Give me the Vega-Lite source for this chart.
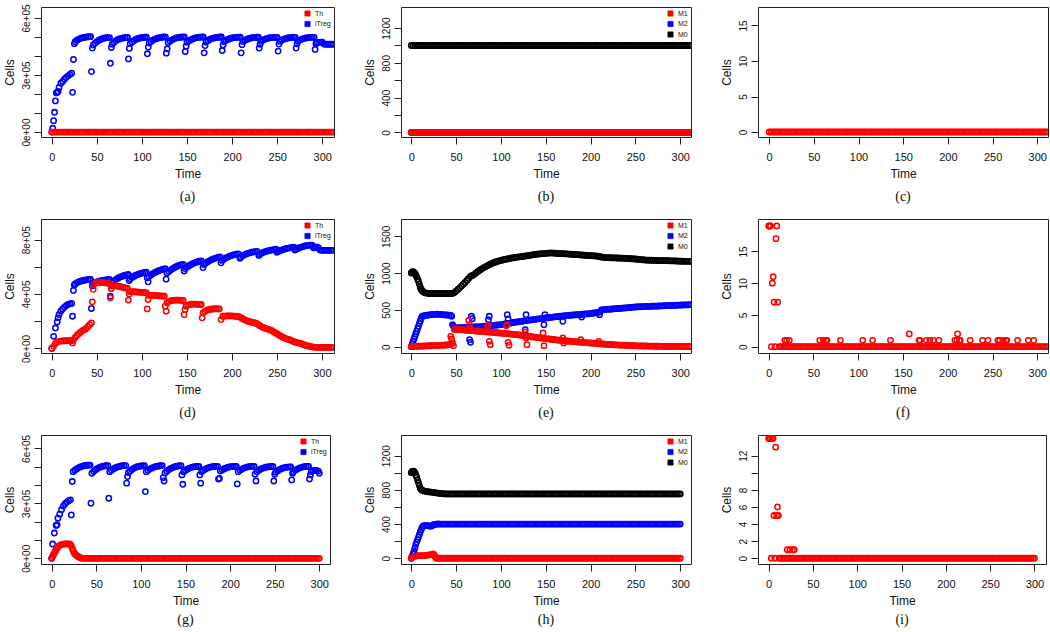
{
"$schema":"https://vega.github.io/schema/vega-lite/v6.json",
"background":"white",
"padding":{"left":2,"top":3,"right":0,"bottom":0},
"config":{
 "view":{"stroke":"#222222","strokeWidth":1},
 "font":"Liberation Sans",
 "point":{"filled":false,"size":28,"strokeWidth":1.55,"opacity":1},
 "axis":{"domain":false,"grid":false,"tickSize":7,"tickColor":"#222222","tickWidth":1,"labelFont":"Liberation Sans","labelColor":"#111111","labelOverlap":false,"labelFlush":false,"titleFont":"Liberation Sans","titleFontSize":12,"titleFontWeight":"normal","titleColor":"#111111"},
 "axisX":{"labelFontSize":11,"labelPadding":7,"titlePadding":6},
 "axisY":{"labelFontSize":10,"labelAngle":270,"labelAlign":"center","labelBaseline":"alphabetic","labelPadding":5,"titlePadding":5},
 "legend":{"orient":"top-right","offset":3,"padding":0,"symbolType":"square","symbolSize":28,"labelFontSize":7,"labelFont":"Liberation Sans","labelColor":"#111111","rowPadding":1.5,"labelOffset":4},
 "title":{"font":"Liberation Serif","fontSize":14,"fontWeight":"normal","color":"#111111","orient":"bottom","frame":"group","anchor":"middle"}
},
"datasets":{
"z312":[{"t":0,"v":0},{"t":2,"v":0},{"t":4,"v":0},{"t":6,"v":0},{"t":8,"v":0},{"t":10,"v":0},{"t":12,"v":0},{"t":14,"v":0},{"t":16,"v":0},{"t":18,"v":0},{"t":20,"v":0},{"t":22,"v":0},{"t":24,"v":0},{"t":26,"v":0},{"t":28,"v":0},{"t":30,"v":0},{"t":32,"v":0},{"t":34,"v":0},{"t":36,"v":0},{"t":38,"v":0},{"t":40,"v":0},{"t":42,"v":0},{"t":44,"v":0},{"t":46,"v":0},{"t":48,"v":0},{"t":50,"v":0},{"t":52,"v":0},{"t":54,"v":0},{"t":56,"v":0},{"t":58,"v":0},{"t":60,"v":0},{"t":62,"v":0},{"t":64,"v":0},{"t":66,"v":0},{"t":68,"v":0},{"t":70,"v":0},{"t":72,"v":0},{"t":74,"v":0},{"t":76,"v":0},{"t":78,"v":0},{"t":80,"v":0},{"t":82,"v":0},{"t":84,"v":0},{"t":86,"v":0},{"t":88,"v":0},{"t":90,"v":0},{"t":92,"v":0},{"t":94,"v":0},{"t":96,"v":0},{"t":98,"v":0},{"t":100,"v":0},{"t":102,"v":0},{"t":104,"v":0},{"t":106,"v":0},{"t":108,"v":0},{"t":110,"v":0},{"t":112,"v":0},{"t":114,"v":0},{"t":116,"v":0},{"t":118,"v":0},{"t":120,"v":0},{"t":122,"v":0},{"t":124,"v":0},{"t":126,"v":0},{"t":128,"v":0},{"t":130,"v":0},{"t":132,"v":0},{"t":134,"v":0},{"t":136,"v":0},{"t":138,"v":0},{"t":140,"v":0},{"t":142,"v":0},{"t":144,"v":0},{"t":146,"v":0},{"t":148,"v":0},{"t":150,"v":0},{"t":152,"v":0},{"t":154,"v":0},{"t":156,"v":0},{"t":158,"v":0},{"t":160,"v":0},{"t":162,"v":0},{"t":164,"v":0},{"t":166,"v":0},{"t":168,"v":0},{"t":170,"v":0},{"t":172,"v":0},{"t":174,"v":0},{"t":176,"v":0},{"t":178,"v":0},{"t":180,"v":0},{"t":182,"v":0},{"t":184,"v":0},{"t":186,"v":0},{"t":188,"v":0},{"t":190,"v":0},{"t":192,"v":0},{"t":194,"v":0},{"t":196,"v":0},{"t":198,"v":0},{"t":200,"v":0},{"t":202,"v":0},{"t":204,"v":0},{"t":206,"v":0},{"t":208,"v":0},{"t":210,"v":0},{"t":212,"v":0},{"t":214,"v":0},{"t":216,"v":0},{"t":218,"v":0},{"t":220,"v":0},{"t":222,"v":0},{"t":224,"v":0},{"t":226,"v":0},{"t":228,"v":0},{"t":230,"v":0},{"t":232,"v":0},{"t":234,"v":0},{"t":236,"v":0},{"t":238,"v":0},{"t":240,"v":0},{"t":242,"v":0},{"t":244,"v":0},{"t":246,"v":0},{"t":248,"v":0},{"t":250,"v":0},{"t":252,"v":0},{"t":254,"v":0},{"t":256,"v":0},{"t":258,"v":0},{"t":260,"v":0},{"t":262,"v":0},{"t":264,"v":0},{"t":266,"v":0},{"t":268,"v":0},{"t":270,"v":0},{"t":272,"v":0},{"t":274,"v":0},{"t":276,"v":0},{"t":278,"v":0},{"t":280,"v":0},{"t":282,"v":0},{"t":284,"v":0},{"t":286,"v":0},{"t":288,"v":0},{"t":290,"v":0},{"t":292,"v":0},{"t":294,"v":0},{"t":296,"v":0},{"t":298,"v":0},{"t":300,"v":0},{"t":302,"v":0},{"t":304,"v":0},{"t":306,"v":0},{"t":308,"v":0},{"t":310,"v":0},{"t":312,"v":0}],
"k1000":[{"t":0,"v":1000},{"t":2,"v":1000},{"t":4,"v":1000},{"t":6,"v":1000},{"t":8,"v":1000},{"t":10,"v":1000},{"t":12,"v":1000},{"t":14,"v":1000},{"t":16,"v":1000},{"t":18,"v":1000},{"t":20,"v":1000},{"t":22,"v":1000},{"t":24,"v":1000},{"t":26,"v":1000},{"t":28,"v":1000},{"t":30,"v":1000},{"t":32,"v":1000},{"t":34,"v":1000},{"t":36,"v":1000},{"t":38,"v":1000},{"t":40,"v":1000},{"t":42,"v":1000},{"t":44,"v":1000},{"t":46,"v":1000},{"t":48,"v":1000},{"t":50,"v":1000},{"t":52,"v":1000},{"t":54,"v":1000},{"t":56,"v":1000},{"t":58,"v":1000},{"t":60,"v":1000},{"t":62,"v":1000},{"t":64,"v":1000},{"t":66,"v":1000},{"t":68,"v":1000},{"t":70,"v":1000},{"t":72,"v":1000},{"t":74,"v":1000},{"t":76,"v":1000},{"t":78,"v":1000},{"t":80,"v":1000},{"t":82,"v":1000},{"t":84,"v":1000},{"t":86,"v":1000},{"t":88,"v":1000},{"t":90,"v":1000},{"t":92,"v":1000},{"t":94,"v":1000},{"t":96,"v":1000},{"t":98,"v":1000},{"t":100,"v":1000},{"t":102,"v":1000},{"t":104,"v":1000},{"t":106,"v":1000},{"t":108,"v":1000},{"t":110,"v":1000},{"t":112,"v":1000},{"t":114,"v":1000},{"t":116,"v":1000},{"t":118,"v":1000},{"t":120,"v":1000},{"t":122,"v":1000},{"t":124,"v":1000},{"t":126,"v":1000},{"t":128,"v":1000},{"t":130,"v":1000},{"t":132,"v":1000},{"t":134,"v":1000},{"t":136,"v":1000},{"t":138,"v":1000},{"t":140,"v":1000},{"t":142,"v":1000},{"t":144,"v":1000},{"t":146,"v":1000},{"t":148,"v":1000},{"t":150,"v":1000},{"t":152,"v":1000},{"t":154,"v":1000},{"t":156,"v":1000},{"t":158,"v":1000},{"t":160,"v":1000},{"t":162,"v":1000},{"t":164,"v":1000},{"t":166,"v":1000},{"t":168,"v":1000},{"t":170,"v":1000},{"t":172,"v":1000},{"t":174,"v":1000},{"t":176,"v":1000},{"t":178,"v":1000},{"t":180,"v":1000},{"t":182,"v":1000},{"t":184,"v":1000},{"t":186,"v":1000},{"t":188,"v":1000},{"t":190,"v":1000},{"t":192,"v":1000},{"t":194,"v":1000},{"t":196,"v":1000},{"t":198,"v":1000},{"t":200,"v":1000},{"t":202,"v":1000},{"t":204,"v":1000},{"t":206,"v":1000},{"t":208,"v":1000},{"t":210,"v":1000},{"t":212,"v":1000},{"t":214,"v":1000},{"t":216,"v":1000},{"t":218,"v":1000},{"t":220,"v":1000},{"t":222,"v":1000},{"t":224,"v":1000},{"t":226,"v":1000},{"t":228,"v":1000},{"t":230,"v":1000},{"t":232,"v":1000},{"t":234,"v":1000},{"t":236,"v":1000},{"t":238,"v":1000},{"t":240,"v":1000},{"t":242,"v":1000},{"t":244,"v":1000},{"t":246,"v":1000},{"t":248,"v":1000},{"t":250,"v":1000},{"t":252,"v":1000},{"t":254,"v":1000},{"t":256,"v":1000},{"t":258,"v":1000},{"t":260,"v":1000},{"t":262,"v":1000},{"t":264,"v":1000},{"t":266,"v":1000},{"t":268,"v":1000},{"t":270,"v":1000},{"t":272,"v":1000},{"t":274,"v":1000},{"t":276,"v":1000},{"t":278,"v":1000},{"t":280,"v":1000},{"t":282,"v":1000},{"t":284,"v":1000},{"t":286,"v":1000},{"t":288,"v":1000},{"t":290,"v":1000},{"t":292,"v":1000},{"t":294,"v":1000},{"t":296,"v":1000},{"t":298,"v":1000},{"t":300,"v":1000},{"t":302,"v":1000},{"t":304,"v":1000},{"t":306,"v":1000},{"t":308,"v":1000},{"t":310,"v":1000},{"t":312,"v":1000}],
"a_it":[{"t":0,"v":0},{"t":1,"v":20000},{"t":2,"v":60000},{"t":3,"v":104000},{"t":4,"v":164000},{"t":5,"v":206000},{"t":6,"v":210000},{"t":7,"v":214000},{"t":8,"v":235000},{"t":10,"v":257000},{"t":12,"v":266000},{"t":14,"v":278000},{"t":16,"v":288000},{"t":18,"v":296000},{"t":20,"v":303000},{"t":22,"v":310000},{"t":23,"v":209000},{"t":24,"v":382000},{"t":25,"v":465000},{"t":26,"v":475000},{"t":28,"v":483000},{"t":30,"v":489000},{"t":32,"v":493000},{"t":34,"v":496000},{"t":36,"v":498000},{"t":38,"v":500000},{"t":40,"v":501000},{"t":42,"v":502000},{"t":43,"v":502000},{"t":44,"v":318000},{"t":45,"v":442000},{"t":46,"v":458000},{"t":48,"v":468000},{"t":50,"v":476000},{"t":52,"v":482000},{"t":54,"v":487000},{"t":56,"v":491000},{"t":58,"v":494000},{"t":60,"v":496000},{"t":62,"v":497000},{"t":64,"v":497000},{"t":65,"v":362000},{"t":66,"v":445000},{"t":67,"v":462000},{"t":69,"v":472000},{"t":71,"v":480000},{"t":73,"v":486000},{"t":75,"v":490000},{"t":77,"v":493000},{"t":79,"v":495000},{"t":81,"v":497000},{"t":83,"v":498000},{"t":84,"v":498000},{"t":85,"v":385000},{"t":86,"v":440000},{"t":87,"v":465000},{"t":89,"v":474000},{"t":91,"v":481000},{"t":93,"v":487000},{"t":95,"v":491000},{"t":97,"v":494000},{"t":99,"v":496000},{"t":101,"v":498000},{"t":103,"v":499000},{"t":105,"v":499000},{"t":106,"v":412000},{"t":107,"v":447000},{"t":108,"v":468000},{"t":110,"v":476000},{"t":112,"v":483000},{"t":114,"v":488000},{"t":116,"v":492000},{"t":118,"v":495000},{"t":120,"v":497000},{"t":122,"v":499000},{"t":124,"v":500000},{"t":126,"v":500000},{"t":127,"v":415000},{"t":128,"v":438000},{"t":129,"v":470000},{"t":131,"v":478000},{"t":133,"v":484000},{"t":135,"v":489000},{"t":137,"v":493000},{"t":139,"v":496000},{"t":141,"v":498000},{"t":143,"v":499000},{"t":145,"v":500000},{"t":147,"v":500000},{"t":148,"v":424000},{"t":149,"v":452000},{"t":150,"v":472000},{"t":152,"v":479000},{"t":154,"v":485000},{"t":156,"v":490000},{"t":158,"v":493000},{"t":160,"v":496000},{"t":162,"v":498000},{"t":164,"v":499000},{"t":166,"v":500000},{"t":168,"v":500000},{"t":169,"v":417000},{"t":170,"v":455000},{"t":171,"v":474000},{"t":173,"v":481000},{"t":175,"v":487000},{"t":177,"v":491000},{"t":179,"v":494000},{"t":181,"v":496000},{"t":183,"v":498000},{"t":185,"v":499000},{"t":187,"v":500000},{"t":188,"v":500000},{"t":189,"v":429000},{"t":190,"v":458000},{"t":191,"v":475000},{"t":193,"v":482000},{"t":195,"v":487000},{"t":197,"v":491000},{"t":199,"v":494000},{"t":201,"v":496000},{"t":203,"v":497000},{"t":205,"v":498000},{"t":207,"v":499000},{"t":209,"v":499000},{"t":210,"v":417000},{"t":211,"v":460000},{"t":212,"v":476000},{"t":214,"v":482000},{"t":216,"v":487000},{"t":218,"v":491000},{"t":220,"v":494000},{"t":222,"v":496000},{"t":224,"v":497000},{"t":226,"v":498000},{"t":228,"v":499000},{"t":229,"v":499000},{"t":230,"v":442000},{"t":231,"v":462000},{"t":232,"v":477000},{"t":234,"v":483000},{"t":236,"v":488000},{"t":238,"v":491000},{"t":240,"v":494000},{"t":242,"v":496000},{"t":244,"v":497000},{"t":246,"v":498000},{"t":248,"v":498000},{"t":250,"v":498000},{"t":251,"v":426000},{"t":252,"v":463000},{"t":253,"v":477000},{"t":255,"v":483000},{"t":257,"v":488000},{"t":259,"v":491000},{"t":261,"v":494000},{"t":263,"v":496000},{"t":265,"v":497000},{"t":267,"v":498000},{"t":269,"v":498000},{"t":270,"v":498000},{"t":271,"v":442000},{"t":272,"v":464000},{"t":273,"v":478000},{"t":275,"v":484000},{"t":277,"v":488000},{"t":279,"v":492000},{"t":281,"v":494000},{"t":283,"v":496000},{"t":285,"v":497000},{"t":287,"v":498000},{"t":289,"v":498000},{"t":291,"v":498000},{"t":292,"v":435000},{"t":293,"v":465000},{"t":294,"v":470000},{"t":296,"v":472000},{"t":298,"v":473000},{"t":300,"v":473000},{"t":302,"v":463000},{"t":304,"v":462000},{"t":306,"v":462000},{"t":308,"v":462000},{"t":310,"v":462000},{"t":312,"v":462000}],
"d_th":[{"t":0,"v":0},{"t":2,"v":15000},{"t":4,"v":37000},{"t":6,"v":47000},{"t":8,"v":52000},{"t":10,"v":54000},{"t":12,"v":55000},{"t":14,"v":56000},{"t":16,"v":57000},{"t":18,"v":57000},{"t":20,"v":57000},{"t":22,"v":57000},{"t":23,"v":40000},{"t":24,"v":62000},{"t":26,"v":80000},{"t":28,"v":95000},{"t":30,"v":108000},{"t":32,"v":120000},{"t":34,"v":130000},{"t":36,"v":138000},{"t":38,"v":145000},{"t":40,"v":160000},{"t":42,"v":175000},{"t":44,"v":188000},{"t":45,"v":343000},{"t":46,"v":435000},{"t":47,"v":470000},{"t":49,"v":484000},{"t":51,"v":487000},{"t":53,"v":487000},{"t":55,"v":486000},{"t":57,"v":485000},{"t":59,"v":483000},{"t":61,"v":481000},{"t":63,"v":479000},{"t":64,"v":477000},{"t":65,"v":373000},{"t":66,"v":440000},{"t":67,"v":462000},{"t":69,"v":462000},{"t":71,"v":460000},{"t":73,"v":458000},{"t":75,"v":456000},{"t":77,"v":453000},{"t":79,"v":450000},{"t":81,"v":447000},{"t":83,"v":444000},{"t":84,"v":442000},{"t":85,"v":356000},{"t":86,"v":400000},{"t":87,"v":418000},{"t":89,"v":418000},{"t":91,"v":417000},{"t":93,"v":416000},{"t":95,"v":415000},{"t":97,"v":414000},{"t":99,"v":413000},{"t":101,"v":412000},{"t":103,"v":411000},{"t":105,"v":410000},{"t":106,"v":291000},{"t":107,"v":360000},{"t":108,"v":390000},{"t":110,"v":391000},{"t":112,"v":390000},{"t":114,"v":390000},{"t":116,"v":389000},{"t":118,"v":388000},{"t":120,"v":387000},{"t":122,"v":386000},{"t":124,"v":385000},{"t":125,"v":385000},{"t":126,"v":311000},{"t":127,"v":274000},{"t":128,"v":336000},{"t":130,"v":345000},{"t":132,"v":350000},{"t":134,"v":353000},{"t":136,"v":355000},{"t":138,"v":356000},{"t":140,"v":356000},{"t":142,"v":355000},{"t":144,"v":354000},{"t":146,"v":353000},{"t":147,"v":249000},{"t":148,"v":285000},{"t":149,"v":311000},{"t":151,"v":318000},{"t":153,"v":322000},{"t":155,"v":325000},{"t":157,"v":326000},{"t":159,"v":326000},{"t":161,"v":325000},{"t":163,"v":324000},{"t":165,"v":323000},{"t":166,"v":323000},{"t":167,"v":225000},{"t":168,"v":262000},{"t":170,"v":272000},{"t":172,"v":280000},{"t":174,"v":285000},{"t":176,"v":288000},{"t":178,"v":290000},{"t":180,"v":291000},{"t":182,"v":292000},{"t":184,"v":292000},{"t":186,"v":291000},{"t":188,"v":212000},{"t":190,"v":237000},{"t":192,"v":238000},{"t":194,"v":239000},{"t":196,"v":240000},{"t":198,"v":240000},{"t":200,"v":239000},{"t":202,"v":238000},{"t":204,"v":237000},{"t":206,"v":236000},{"t":208,"v":234000},{"t":210,"v":226000},{"t":212,"v":218000},{"t":214,"v":212000},{"t":216,"v":206000},{"t":218,"v":200000},{"t":220,"v":196000},{"t":222,"v":193000},{"t":224,"v":189000},{"t":226,"v":187000},{"t":228,"v":182000},{"t":230,"v":172000},{"t":232,"v":163000},{"t":234,"v":157000},{"t":236,"v":151000},{"t":238,"v":146000},{"t":240,"v":142000},{"t":242,"v":138000},{"t":244,"v":132000},{"t":246,"v":124000},{"t":248,"v":116000},{"t":250,"v":108000},{"t":252,"v":100000},{"t":254,"v":92000},{"t":256,"v":84000},{"t":258,"v":78000},{"t":260,"v":72000},{"t":262,"v":68000},{"t":264,"v":64000},{"t":266,"v":58000},{"t":268,"v":52000},{"t":270,"v":47000},{"t":272,"v":43000},{"t":274,"v":40000},{"t":276,"v":37000},{"t":278,"v":32000},{"t":280,"v":27000},{"t":282,"v":23000},{"t":284,"v":19000},{"t":286,"v":16000},{"t":288,"v":13000},{"t":290,"v":10000},{"t":292,"v":8000},{"t":294,"v":7000},{"t":296,"v":7000},{"t":298,"v":7000},{"t":300,"v":7000},{"t":302,"v":7000},{"t":304,"v":7000},{"t":306,"v":7000},{"t":308,"v":7000},{"t":310,"v":7000},{"t":312,"v":7000}],
"d_it":[{"t":0,"v":0},{"t":2,"v":89000},{"t":4,"v":150000},{"t":6,"v":195000},{"t":7,"v":225000},{"t":8,"v":249000},{"t":10,"v":274000},{"t":12,"v":290000},{"t":14,"v":304000},{"t":16,"v":315000},{"t":18,"v":323000},{"t":20,"v":328000},{"t":22,"v":331000},{"t":23,"v":237000},{"t":24,"v":427000},{"t":25,"v":467000},{"t":26,"v":475000},{"t":28,"v":484000},{"t":30,"v":490000},{"t":32,"v":495000},{"t":34,"v":499000},{"t":36,"v":502000},{"t":38,"v":505000},{"t":40,"v":507000},{"t":42,"v":508000},{"t":43,"v":508000},{"t":44,"v":294000},{"t":45,"v":460000},{"t":46,"v":478000},{"t":48,"v":484000},{"t":50,"v":489000},{"t":52,"v":493000},{"t":54,"v":497000},{"t":56,"v":500000},{"t":58,"v":503000},{"t":60,"v":505000},{"t":62,"v":507000},{"t":64,"v":508000},{"t":65,"v":385000},{"t":66,"v":460000},{"t":67,"v":485000},{"t":69,"v":497000},{"t":71,"v":507000},{"t":73,"v":515000},{"t":75,"v":522000},{"t":77,"v":528000},{"t":79,"v":533000},{"t":81,"v":537000},{"t":83,"v":541000},{"t":85,"v":544000},{"t":86,"v":500000},{"t":87,"v":512000},{"t":89,"v":522000},{"t":91,"v":530000},{"t":93,"v":537000},{"t":95,"v":543000},{"t":97,"v":548000},{"t":99,"v":552000},{"t":101,"v":556000},{"t":103,"v":559000},{"t":105,"v":561000},{"t":106,"v":520000},{"t":107,"v":490000},{"t":108,"v":530000},{"t":110,"v":540000},{"t":112,"v":549000},{"t":114,"v":557000},{"t":116,"v":564000},{"t":118,"v":570000},{"t":120,"v":575000},{"t":122,"v":580000},{"t":124,"v":584000},{"t":126,"v":587000},{"t":127,"v":510000},{"t":128,"v":555000},{"t":130,"v":567000},{"t":132,"v":577000},{"t":134,"v":586000},{"t":136,"v":594000},{"t":138,"v":601000},{"t":140,"v":607000},{"t":142,"v":612000},{"t":144,"v":616000},{"t":146,"v":619000},{"t":147,"v":570000},{"t":148,"v":588000},{"t":150,"v":598000},{"t":152,"v":607000},{"t":154,"v":615000},{"t":156,"v":622000},{"t":158,"v":628000},{"t":160,"v":633000},{"t":162,"v":638000},{"t":164,"v":642000},{"t":166,"v":645000},{"t":168,"v":595000},{"t":169,"v":618000},{"t":171,"v":628000},{"t":173,"v":637000},{"t":175,"v":645000},{"t":177,"v":652000},{"t":179,"v":658000},{"t":181,"v":663000},{"t":183,"v":667000},{"t":185,"v":671000},{"t":187,"v":674000},{"t":188,"v":630000},{"t":189,"v":648000},{"t":191,"v":657000},{"t":193,"v":665000},{"t":195,"v":672000},{"t":197,"v":678000},{"t":199,"v":683000},{"t":201,"v":687000},{"t":203,"v":691000},{"t":205,"v":694000},{"t":207,"v":696000},{"t":209,"v":664000},{"t":210,"v":674000},{"t":212,"v":682000},{"t":214,"v":689000},{"t":216,"v":695000},{"t":218,"v":700000},{"t":220,"v":704000},{"t":222,"v":708000},{"t":224,"v":711000},{"t":226,"v":713000},{"t":228,"v":715000},{"t":230,"v":685000},{"t":231,"v":694000},{"t":233,"v":701000},{"t":235,"v":707000},{"t":237,"v":712000},{"t":239,"v":716000},{"t":241,"v":720000},{"t":243,"v":723000},{"t":245,"v":726000},{"t":247,"v":728000},{"t":249,"v":730000},{"t":250,"v":708000},{"t":251,"v":712000},{"t":253,"v":718000},{"t":255,"v":723000},{"t":257,"v":728000},{"t":259,"v":732000},{"t":261,"v":736000},{"t":263,"v":739000},{"t":265,"v":742000},{"t":267,"v":744000},{"t":269,"v":746000},{"t":270,"v":725000},{"t":271,"v":728000},{"t":273,"v":735000},{"t":275,"v":741000},{"t":277,"v":746000},{"t":279,"v":750000},{"t":281,"v":754000},{"t":283,"v":757000},{"t":285,"v":759000},{"t":287,"v":760000},{"t":289,"v":760000},{"t":291,"v":740000},{"t":292,"v":745000},{"t":294,"v":748000},{"t":296,"v":742000},{"t":298,"v":725000},{"t":300,"v":722000},{"t":302,"v":722000},{"t":304,"v":722000},{"t":306,"v":722000},{"t":308,"v":722000},{"t":310,"v":722000},{"t":312,"v":722000}],
"e_m0":[{"t":0,"v":1001},{"t":1,"v":1015},{"t":2,"v":1020},{"t":3,"v":1010},{"t":4,"v":995},{"t":5,"v":975},{"t":6,"v":950},{"t":7,"v":920},{"t":8,"v":890},{"t":9,"v":850},{"t":10,"v":805},{"t":11,"v":780},{"t":12,"v":760},{"t":14,"v":740},{"t":16,"v":730},{"t":18,"v":725},{"t":20,"v":722},{"t":22,"v":722},{"t":24,"v":722},{"t":26,"v":722},{"t":28,"v":722},{"t":30,"v":722},{"t":32,"v":722},{"t":34,"v":722},{"t":36,"v":722},{"t":38,"v":722},{"t":40,"v":722},{"t":42,"v":722},{"t":44,"v":722},{"t":46,"v":724},{"t":48,"v":735},{"t":50,"v":755},{"t":52,"v":778},{"t":54,"v":800},{"t":56,"v":823},{"t":58,"v":848},{"t":60,"v":873},{"t":62,"v":900},{"t":64,"v":928},{"t":66,"v":955},{"t":68,"v":968},{"t":70,"v":980},{"t":72,"v":1000},{"t":74,"v":1018},{"t":76,"v":1035},{"t":78,"v":1052},{"t":80,"v":1068},{"t":82,"v":1082},{"t":84,"v":1095},{"t":86,"v":1108},{"t":88,"v":1120},{"t":90,"v":1132},{"t":92,"v":1142},{"t":94,"v":1151},{"t":96,"v":1159},{"t":98,"v":1166},{"t":100,"v":1172},{"t":102,"v":1178},{"t":104,"v":1184},{"t":106,"v":1189},{"t":108,"v":1195},{"t":110,"v":1200},{"t":112,"v":1205},{"t":114,"v":1209},{"t":116,"v":1213},{"t":118,"v":1217},{"t":120,"v":1220},{"t":122,"v":1223},{"t":124,"v":1226},{"t":126,"v":1229},{"t":128,"v":1233},{"t":130,"v":1237},{"t":132,"v":1241},{"t":134,"v":1245},{"t":136,"v":1250},{"t":138,"v":1254},{"t":140,"v":1257},{"t":142,"v":1260},{"t":144,"v":1262},{"t":146,"v":1264},{"t":148,"v":1265},{"t":150,"v":1268},{"t":152,"v":1270},{"t":154,"v":1272},{"t":156,"v":1273},{"t":158,"v":1272},{"t":160,"v":1270},{"t":162,"v":1268},{"t":164,"v":1266},{"t":166,"v":1265},{"t":168,"v":1265},{"t":170,"v":1264},{"t":172,"v":1262},{"t":174,"v":1260},{"t":176,"v":1258},{"t":178,"v":1256},{"t":180,"v":1254},{"t":182,"v":1252},{"t":184,"v":1251},{"t":186,"v":1250},{"t":188,"v":1248},{"t":190,"v":1246},{"t":192,"v":1244},{"t":194,"v":1242},{"t":196,"v":1240},{"t":198,"v":1238},{"t":200,"v":1237},{"t":202,"v":1236},{"t":204,"v":1234},{"t":206,"v":1232},{"t":208,"v":1230},{"t":210,"v":1225},{"t":212,"v":1218},{"t":214,"v":1215},{"t":216,"v":1213},{"t":218,"v":1211},{"t":220,"v":1210},{"t":222,"v":1209},{"t":224,"v":1208},{"t":226,"v":1207},{"t":228,"v":1206},{"t":230,"v":1205},{"t":232,"v":1204},{"t":234,"v":1203},{"t":236,"v":1202},{"t":238,"v":1200},{"t":240,"v":1199},{"t":242,"v":1198},{"t":244,"v":1197},{"t":246,"v":1195},{"t":248,"v":1193},{"t":250,"v":1191},{"t":252,"v":1189},{"t":254,"v":1186},{"t":256,"v":1183},{"t":258,"v":1181},{"t":260,"v":1179},{"t":262,"v":1177},{"t":264,"v":1176},{"t":266,"v":1175},{"t":268,"v":1174},{"t":270,"v":1173},{"t":272,"v":1172},{"t":274,"v":1171},{"t":276,"v":1170},{"t":278,"v":1170},{"t":280,"v":1169},{"t":282,"v":1169},{"t":284,"v":1169},{"t":286,"v":1169},{"t":288,"v":1168},{"t":290,"v":1167},{"t":292,"v":1166},{"t":294,"v":1165},{"t":296,"v":1164},{"t":298,"v":1163},{"t":300,"v":1162},{"t":302,"v":1161},{"t":304,"v":1160},{"t":306,"v":1160},{"t":308,"v":1160},{"t":310,"v":1160},{"t":312,"v":1160}],
"e_m2":[{"t":0,"v":0},{"t":1,"v":35},{"t":2,"v":70},{"t":3,"v":105},{"t":4,"v":140},{"t":5,"v":175},{"t":6,"v":210},{"t":7,"v":245},{"t":8,"v":280},{"t":9,"v":315},{"t":10,"v":350},{"t":11,"v":385},{"t":12,"v":410},{"t":14,"v":420},{"t":16,"v":425},{"t":18,"v":428},{"t":20,"v":432},{"t":22,"v":435},{"t":24,"v":437},{"t":26,"v":439},{"t":28,"v":440},{"t":30,"v":440},{"t":32,"v":438},{"t":34,"v":436},{"t":36,"v":434},{"t":38,"v":432},{"t":40,"v":430},{"t":42,"v":427},{"t":44,"v":424},{"t":45,"v":413},{"t":46,"v":300},{"t":47,"v":277},{"t":65,"v":95},{"t":66,"v":60},{"t":67,"v":413},{"t":68,"v":380},{"t":86,"v":367},{"t":87,"v":413},{"t":107,"v":435},{"t":108,"v":376},{"t":127,"v":231},{"t":128,"v":435},{"t":148,"v":299},{"t":149,"v":435},{"t":169,"v":344},{"t":190,"v":403},{"t":210,"v":435},{"t":48,"v":255},{"t":50,"v":255},{"t":52,"v":256},{"t":54,"v":257},{"t":56,"v":258},{"t":58,"v":259},{"t":60,"v":260},{"t":62,"v":262},{"t":64,"v":263},{"t":66,"v":264},{"t":68,"v":266},{"t":70,"v":267},{"t":72,"v":269},{"t":74,"v":270},{"t":76,"v":272},{"t":78,"v":273},{"t":80,"v":275},{"t":82,"v":277},{"t":84,"v":280},{"t":86,"v":282},{"t":88,"v":285},{"t":90,"v":287},{"t":92,"v":290},{"t":94,"v":292},{"t":96,"v":295},{"t":98,"v":297},{"t":100,"v":300},{"t":102,"v":304},{"t":104,"v":308},{"t":106,"v":312},{"t":108,"v":316},{"t":110,"v":320},{"t":112,"v":324},{"t":114,"v":328},{"t":116,"v":332},{"t":118,"v":336},{"t":120,"v":340},{"t":122,"v":344},{"t":124,"v":347},{"t":126,"v":351},{"t":128,"v":354},{"t":130,"v":358},{"t":132,"v":361},{"t":134,"v":365},{"t":136,"v":368},{"t":138,"v":372},{"t":140,"v":375},{"t":142,"v":378},{"t":144,"v":381},{"t":146,"v":384},{"t":148,"v":387},{"t":150,"v":390},{"t":152,"v":393},{"t":154,"v":396},{"t":156,"v":399},{"t":158,"v":402},{"t":160,"v":405},{"t":162,"v":408},{"t":164,"v":410},{"t":166,"v":413},{"t":168,"v":415},{"t":170,"v":418},{"t":172,"v":420},{"t":174,"v":423},{"t":176,"v":425},{"t":178,"v":428},{"t":180,"v":430},{"t":182,"v":432},{"t":184,"v":434},{"t":186,"v":436},{"t":188,"v":438},{"t":190,"v":440},{"t":192,"v":442},{"t":194,"v":444},{"t":196,"v":446},{"t":198,"v":448},{"t":200,"v":450},{"t":202,"v":454},{"t":204,"v":458},{"t":206,"v":462},{"t":208,"v":466},{"t":210,"v":470},{"t":212,"v":500},{"t":214,"v":502},{"t":216,"v":504},{"t":218,"v":506},{"t":220,"v":508},{"t":222,"v":510},{"t":224,"v":512},{"t":226,"v":514},{"t":228,"v":516},{"t":230,"v":518},{"t":232,"v":520},{"t":234,"v":522},{"t":236,"v":524},{"t":238,"v":526},{"t":240,"v":528},{"t":242,"v":530},{"t":244,"v":532},{"t":246,"v":535},{"t":248,"v":537},{"t":250,"v":540},{"t":252,"v":541},{"t":254,"v":542},{"t":256,"v":543},{"t":258,"v":544},{"t":260,"v":545},{"t":262,"v":546},{"t":264,"v":547},{"t":266,"v":548},{"t":268,"v":549},{"t":270,"v":550},{"t":272,"v":551},{"t":274,"v":552},{"t":276,"v":553},{"t":278,"v":554},{"t":280,"v":555},{"t":282,"v":556},{"t":284,"v":557},{"t":286,"v":558},{"t":288,"v":559},{"t":290,"v":560},{"t":292,"v":561},{"t":294,"v":562},{"t":296,"v":563},{"t":298,"v":564},{"t":300,"v":565},{"t":302,"v":566},{"t":304,"v":567},{"t":306,"v":568},{"t":308,"v":569},{"t":310,"v":570},{"t":312,"v":572}],
"e_m1":[{"t":0,"v":0},{"t":2,"v":2},{"t":4,"v":4},{"t":6,"v":5},{"t":8,"v":6},{"t":10,"v":7},{"t":12,"v":8},{"t":14,"v":9},{"t":16,"v":10},{"t":18,"v":11},{"t":20,"v":12},{"t":22,"v":13},{"t":24,"v":14},{"t":26,"v":15},{"t":28,"v":16},{"t":30,"v":17},{"t":32,"v":18},{"t":34,"v":19},{"t":36,"v":21},{"t":38,"v":23},{"t":40,"v":25},{"t":42,"v":27},{"t":44,"v":30},{"t":44,"v":140},{"t":45,"v":104},{"t":46,"v":50},{"t":47,"v":14},{"t":64,"v":358},{"t":65,"v":299},{"t":66,"v":250},{"t":85,"v":276},{"t":86,"v":290},{"t":87,"v":72},{"t":88,"v":27},{"t":106,"v":285},{"t":107,"v":300},{"t":108,"v":59},{"t":109,"v":20},{"t":127,"v":200},{"t":128,"v":118},{"t":129,"v":27},{"t":147,"v":186},{"t":148,"v":14},{"t":169,"v":118},{"t":170,"v":50},{"t":189,"v":95},{"t":209,"v":72},{"t":48,"v":235},{"t":50,"v":234},{"t":52,"v":233},{"t":54,"v":232},{"t":56,"v":230},{"t":58,"v":228},{"t":60,"v":225},{"t":62,"v":223},{"t":64,"v":221},{"t":66,"v":219},{"t":68,"v":217},{"t":70,"v":215},{"t":72,"v":213},{"t":74,"v":211},{"t":76,"v":209},{"t":78,"v":207},{"t":80,"v":205},{"t":82,"v":203},{"t":84,"v":201},{"t":86,"v":199},{"t":88,"v":197},{"t":90,"v":195},{"t":92,"v":193},{"t":94,"v":191},{"t":96,"v":189},{"t":98,"v":187},{"t":100,"v":185},{"t":102,"v":183},{"t":104,"v":180},{"t":106,"v":178},{"t":108,"v":175},{"t":110,"v":173},{"t":112,"v":170},{"t":114,"v":168},{"t":116,"v":165},{"t":118,"v":163},{"t":120,"v":160},{"t":122,"v":157},{"t":124,"v":153},{"t":126,"v":150},{"t":128,"v":146},{"t":130,"v":143},{"t":132,"v":139},{"t":134,"v":136},{"t":136,"v":132},{"t":138,"v":129},{"t":140,"v":125},{"t":142,"v":122},{"t":144,"v":119},{"t":146,"v":116},{"t":148,"v":113},{"t":150,"v":110},{"t":152,"v":107},{"t":154,"v":104},{"t":156,"v":101},{"t":158,"v":98},{"t":160,"v":95},{"t":162,"v":92},{"t":164,"v":90},{"t":166,"v":87},{"t":168,"v":85},{"t":170,"v":82},{"t":172,"v":80},{"t":174,"v":77},{"t":176,"v":75},{"t":178,"v":72},{"t":180,"v":70},{"t":182,"v":68},{"t":184,"v":66},{"t":186,"v":64},{"t":188,"v":62},{"t":190,"v":60},{"t":192,"v":58},{"t":194,"v":56},{"t":196,"v":54},{"t":198,"v":52},{"t":200,"v":50},{"t":202,"v":48},{"t":204,"v":46},{"t":206,"v":44},{"t":208,"v":42},{"t":210,"v":40},{"t":212,"v":38},{"t":214,"v":36},{"t":216,"v":34},{"t":218,"v":32},{"t":220,"v":30},{"t":222,"v":29},{"t":224,"v":27},{"t":226,"v":26},{"t":228,"v":25},{"t":230,"v":24},{"t":232,"v":22},{"t":234,"v":21},{"t":236,"v":20},{"t":238,"v":19},{"t":240,"v":18},{"t":242,"v":17},{"t":244,"v":15},{"t":246,"v":14},{"t":248,"v":13},{"t":250,"v":12},{"t":252,"v":11},{"t":254,"v":11},{"t":256,"v":10},{"t":258,"v":10},{"t":260,"v":9},{"t":262,"v":9},{"t":264,"v":8},{"t":266,"v":8},{"t":268,"v":7},{"t":270,"v":7},{"t":272,"v":6},{"t":274,"v":6},{"t":276,"v":6},{"t":278,"v":5},{"t":280,"v":5},{"t":282,"v":5},{"t":284,"v":4},{"t":286,"v":4},{"t":288,"v":4},{"t":290,"v":4},{"t":292,"v":3},{"t":294,"v":3},{"t":296,"v":3},{"t":298,"v":3},{"t":300,"v":3},{"t":302,"v":2},{"t":304,"v":2},{"t":306,"v":2},{"t":308,"v":2},{"t":310,"v":2},{"t":312,"v":2}],
"f_x":[{"t":0,"v":19},{"t":1,"v":19},{"t":2,"v":19},{"t":3,"v":0},{"t":4,"v":10},{"t":5,"v":11},{"t":6,"v":7},{"t":7,"v":0},{"t":8,"v":17},{"t":9,"v":19},{"t":10,"v":7},{"t":18,"v":1},{"t":20,"v":1},{"t":23,"v":1},{"t":57,"v":1},{"t":61,"v":1},{"t":64,"v":1},{"t":65,"v":1},{"t":80,"v":1},{"t":105,"v":1},{"t":116,"v":1},{"t":136,"v":1},{"t":157,"v":2},{"t":168,"v":1},{"t":169,"v":1},{"t":176,"v":1},{"t":180,"v":1},{"t":184,"v":1},{"t":190,"v":1},{"t":208,"v":1},{"t":210,"v":1},{"t":211,"v":2},{"t":213,"v":1},{"t":214,"v":1},{"t":225,"v":1},{"t":239,"v":1},{"t":245,"v":1},{"t":256,"v":1},{"t":258,"v":1},{"t":262,"v":1},{"t":265,"v":1},{"t":266,"v":1},{"t":278,"v":1},{"t":290,"v":1},{"t":296,"v":1}],
"g_it":[{"t":0,"v":0},{"t":1,"v":78000},{"t":3,"v":138000},{"t":5,"v":179000},{"t":6,"v":183000},{"t":7,"v":219000},{"t":9,"v":241000},{"t":11,"v":265000},{"t":13,"v":285000},{"t":15,"v":298000},{"t":17,"v":307000},{"t":19,"v":314000},{"t":21,"v":319000},{"t":22,"v":237000},{"t":23,"v":419000},{"t":24,"v":473000},{"t":26,"v":481000},{"t":28,"v":488000},{"t":30,"v":494000},{"t":32,"v":499000},{"t":34,"v":502000},{"t":36,"v":505000},{"t":38,"v":507000},{"t":40,"v":508000},{"t":42,"v":509000},{"t":43,"v":509000},{"t":44,"v":301000},{"t":45,"v":464000},{"t":47,"v":474000},{"t":49,"v":482000},{"t":51,"v":489000},{"t":53,"v":495000},{"t":55,"v":499000},{"t":57,"v":502000},{"t":59,"v":504000},{"t":61,"v":505000},{"t":63,"v":506000},{"t":64,"v":328000},{"t":65,"v":473000},{"t":67,"v":480000},{"t":69,"v":487000},{"t":71,"v":493000},{"t":73,"v":497000},{"t":75,"v":500000},{"t":77,"v":503000},{"t":79,"v":505000},{"t":81,"v":506000},{"t":83,"v":506000},{"t":84,"v":410000},{"t":85,"v":446000},{"t":86,"v":468000},{"t":88,"v":477000},{"t":90,"v":485000},{"t":92,"v":491000},{"t":94,"v":496000},{"t":96,"v":500000},{"t":98,"v":502000},{"t":100,"v":504000},{"t":102,"v":505000},{"t":104,"v":506000},{"t":105,"v":364000},{"t":106,"v":473000},{"t":108,"v":480000},{"t":110,"v":487000},{"t":112,"v":492000},{"t":114,"v":496000},{"t":116,"v":500000},{"t":118,"v":502000},{"t":120,"v":504000},{"t":122,"v":505000},{"t":124,"v":506000},{"t":125,"v":440000},{"t":126,"v":422000},{"t":127,"v":466000},{"t":129,"v":475000},{"t":131,"v":483000},{"t":133,"v":489000},{"t":135,"v":494000},{"t":137,"v":498000},{"t":139,"v":501000},{"t":141,"v":503000},{"t":143,"v":505000},{"t":145,"v":506000},{"t":146,"v":455000},{"t":147,"v":404000},{"t":148,"v":473000},{"t":150,"v":480000},{"t":152,"v":486000},{"t":154,"v":491000},{"t":156,"v":495000},{"t":158,"v":498000},{"t":160,"v":500000},{"t":162,"v":501000},{"t":164,"v":502000},{"t":165,"v":502000},{"t":166,"v":455000},{"t":167,"v":410000},{"t":168,"v":473000},{"t":170,"v":480000},{"t":172,"v":486000},{"t":174,"v":491000},{"t":176,"v":495000},{"t":178,"v":498000},{"t":180,"v":500000},{"t":182,"v":501000},{"t":184,"v":502000},{"t":186,"v":502000},{"t":187,"v":433000},{"t":188,"v":436000},{"t":189,"v":476000},{"t":191,"v":482000},{"t":193,"v":488000},{"t":195,"v":492000},{"t":197,"v":496000},{"t":199,"v":499000},{"t":201,"v":500000},{"t":203,"v":501000},{"t":205,"v":502000},{"t":207,"v":502000},{"t":208,"v":406000},{"t":209,"v":473000},{"t":211,"v":480000},{"t":213,"v":486000},{"t":215,"v":491000},{"t":217,"v":495000},{"t":219,"v":498000},{"t":221,"v":500000},{"t":223,"v":501000},{"t":225,"v":502000},{"t":227,"v":502000},{"t":228,"v":459000},{"t":229,"v":422000},{"t":230,"v":473000},{"t":232,"v":480000},{"t":234,"v":486000},{"t":236,"v":491000},{"t":238,"v":494000},{"t":240,"v":497000},{"t":242,"v":499000},{"t":244,"v":500000},{"t":246,"v":501000},{"t":248,"v":501000},{"t":249,"v":422000},{"t":250,"v":459000},{"t":251,"v":470000},{"t":253,"v":477000},{"t":255,"v":483000},{"t":257,"v":488000},{"t":259,"v":492000},{"t":261,"v":495000},{"t":263,"v":497000},{"t":265,"v":498000},{"t":267,"v":499000},{"t":268,"v":499000},{"t":269,"v":428000},{"t":270,"v":464000},{"t":271,"v":473000},{"t":273,"v":480000},{"t":275,"v":486000},{"t":277,"v":491000},{"t":279,"v":495000},{"t":281,"v":498000},{"t":283,"v":500000},{"t":285,"v":501000},{"t":287,"v":502000},{"t":288,"v":502000},{"t":289,"v":433000},{"t":290,"v":455000},{"t":291,"v":473000},{"t":293,"v":478000},{"t":295,"v":481000},{"t":297,"v":480000},{"t":299,"v":476000},{"t":300,"v":464000}],
"g_th":[{"t":0,"v":0},{"t":1,"v":10000},{"t":2,"v":20000},{"t":3,"v":29000},{"t":4,"v":38000},{"t":5,"v":47000},{"t":6,"v":56000},{"t":7,"v":63000},{"t":8,"v":68000},{"t":10,"v":73000},{"t":12,"v":76000},{"t":14,"v":78000},{"t":16,"v":78000},{"t":18,"v":78000},{"t":20,"v":78000},{"t":21,"v":76000},{"t":22,"v":68000},{"t":23,"v":55000},{"t":24,"v":42000},{"t":25,"v":31000},{"t":26,"v":24000},{"t":27,"v":19000},{"t":28,"v":15000},{"t":29,"v":11000},{"t":30,"v":8000},{"t":31,"v":6000},{"t":32,"v":4000},{"t":33,"v":2000}],
"h_m0":[{"t":0,"v":1001},{"t":1,"v":1015},{"t":2,"v":1020},{"t":3,"v":1015},{"t":4,"v":1001},{"t":5,"v":975},{"t":6,"v":950},{"t":7,"v":915},{"t":8,"v":883},{"t":9,"v":850},{"t":10,"v":820},{"t":11,"v":805},{"t":12,"v":796},{"t":14,"v":788},{"t":16,"v":783},{"t":18,"v":779},{"t":20,"v":776},{"t":22,"v":774},{"t":24,"v":771},{"t":26,"v":768},{"t":28,"v":765},{"t":30,"v":762},{"t":32,"v":759},{"t":34,"v":757},{"t":36,"v":755},{"t":38,"v":753},{"t":40,"v":753},{"t":42,"v":753},{"t":44,"v":753},{"t":46,"v":753},{"t":48,"v":753},{"t":50,"v":753},{"t":52,"v":753},{"t":54,"v":753},{"t":56,"v":753},{"t":58,"v":753},{"t":60,"v":753},{"t":62,"v":753},{"t":64,"v":753},{"t":66,"v":753},{"t":68,"v":753},{"t":70,"v":753},{"t":72,"v":753},{"t":74,"v":753},{"t":76,"v":753},{"t":78,"v":753},{"t":80,"v":753},{"t":82,"v":753},{"t":84,"v":753},{"t":86,"v":753},{"t":88,"v":753},{"t":90,"v":753},{"t":92,"v":753},{"t":94,"v":753},{"t":96,"v":753},{"t":98,"v":753},{"t":100,"v":753},{"t":102,"v":753},{"t":104,"v":753},{"t":106,"v":753},{"t":108,"v":753},{"t":110,"v":753},{"t":112,"v":753},{"t":114,"v":753},{"t":116,"v":753},{"t":118,"v":753},{"t":120,"v":753},{"t":122,"v":753},{"t":124,"v":753},{"t":126,"v":753},{"t":128,"v":753},{"t":130,"v":753},{"t":132,"v":753},{"t":134,"v":753},{"t":136,"v":753},{"t":138,"v":753},{"t":140,"v":753},{"t":142,"v":753},{"t":144,"v":753},{"t":146,"v":753},{"t":148,"v":753},{"t":150,"v":753},{"t":152,"v":753},{"t":154,"v":753},{"t":156,"v":753},{"t":158,"v":753},{"t":160,"v":753},{"t":162,"v":753},{"t":164,"v":753},{"t":166,"v":753},{"t":168,"v":753},{"t":170,"v":753},{"t":172,"v":753},{"t":174,"v":753},{"t":176,"v":753},{"t":178,"v":753},{"t":180,"v":753},{"t":182,"v":753},{"t":184,"v":753},{"t":186,"v":753},{"t":188,"v":753},{"t":190,"v":753},{"t":192,"v":753},{"t":194,"v":753},{"t":196,"v":753},{"t":198,"v":753},{"t":200,"v":753},{"t":202,"v":753},{"t":204,"v":753},{"t":206,"v":753},{"t":208,"v":753},{"t":210,"v":753},{"t":212,"v":753},{"t":214,"v":753},{"t":216,"v":753},{"t":218,"v":753},{"t":220,"v":753},{"t":222,"v":753},{"t":224,"v":753},{"t":226,"v":753},{"t":228,"v":753},{"t":230,"v":753},{"t":232,"v":753},{"t":234,"v":753},{"t":236,"v":753},{"t":238,"v":753},{"t":240,"v":753},{"t":242,"v":753},{"t":244,"v":753},{"t":246,"v":753},{"t":248,"v":753},{"t":250,"v":753},{"t":252,"v":753},{"t":254,"v":753},{"t":256,"v":753},{"t":258,"v":753},{"t":260,"v":753},{"t":262,"v":753},{"t":264,"v":753},{"t":266,"v":753},{"t":268,"v":753},{"t":270,"v":753},{"t":272,"v":753},{"t":274,"v":753},{"t":276,"v":753},{"t":278,"v":753},{"t":280,"v":753},{"t":282,"v":753},{"t":284,"v":753},{"t":286,"v":753},{"t":288,"v":753},{"t":290,"v":753},{"t":292,"v":753},{"t":294,"v":753},{"t":296,"v":753},{"t":298,"v":753},{"t":300,"v":753}],
"h_m2":[{"t":0,"v":0},{"t":1,"v":23},{"t":2,"v":50},{"t":3,"v":82},{"t":4,"v":120},{"t":5,"v":160},{"t":6,"v":190},{"t":7,"v":219},{"t":8,"v":248},{"t":9,"v":277},{"t":10,"v":310},{"t":11,"v":336},{"t":12,"v":358},{"t":13,"v":372},{"t":14,"v":380},{"t":16,"v":383},{"t":18,"v":381},{"t":20,"v":378},{"t":22,"v":376},{"t":24,"v":385},{"t":25,"v":392},{"t":26,"v":396},{"t":28,"v":399},{"t":30,"v":401},{"t":32,"v":400},{"t":34,"v":400},{"t":36,"v":400},{"t":38,"v":400},{"t":40,"v":400},{"t":42,"v":400},{"t":44,"v":400},{"t":46,"v":400},{"t":48,"v":400},{"t":50,"v":400},{"t":52,"v":400},{"t":54,"v":400},{"t":56,"v":400},{"t":58,"v":400},{"t":60,"v":400},{"t":62,"v":400},{"t":64,"v":400},{"t":66,"v":400},{"t":68,"v":400},{"t":70,"v":400},{"t":72,"v":400},{"t":74,"v":400},{"t":76,"v":400},{"t":78,"v":400},{"t":80,"v":400},{"t":82,"v":400},{"t":84,"v":400},{"t":86,"v":400},{"t":88,"v":400},{"t":90,"v":400},{"t":92,"v":400},{"t":94,"v":400},{"t":96,"v":400},{"t":98,"v":400},{"t":100,"v":400},{"t":102,"v":400},{"t":104,"v":400},{"t":106,"v":400},{"t":108,"v":400},{"t":110,"v":400},{"t":112,"v":400},{"t":114,"v":400},{"t":116,"v":400},{"t":118,"v":400},{"t":120,"v":400},{"t":122,"v":400},{"t":124,"v":400},{"t":126,"v":400},{"t":128,"v":400},{"t":130,"v":400},{"t":132,"v":400},{"t":134,"v":400},{"t":136,"v":400},{"t":138,"v":400},{"t":140,"v":400},{"t":142,"v":400},{"t":144,"v":400},{"t":146,"v":400},{"t":148,"v":400},{"t":150,"v":400},{"t":152,"v":400},{"t":154,"v":400},{"t":156,"v":400},{"t":158,"v":400},{"t":160,"v":400},{"t":162,"v":400},{"t":164,"v":400},{"t":166,"v":400},{"t":168,"v":400},{"t":170,"v":400},{"t":172,"v":400},{"t":174,"v":400},{"t":176,"v":400},{"t":178,"v":400},{"t":180,"v":400},{"t":182,"v":400},{"t":184,"v":400},{"t":186,"v":400},{"t":188,"v":400},{"t":190,"v":400},{"t":192,"v":400},{"t":194,"v":400},{"t":196,"v":400},{"t":198,"v":400},{"t":200,"v":400},{"t":202,"v":400},{"t":204,"v":400},{"t":206,"v":400},{"t":208,"v":400},{"t":210,"v":400},{"t":212,"v":400},{"t":214,"v":400},{"t":216,"v":400},{"t":218,"v":400},{"t":220,"v":400},{"t":222,"v":400},{"t":224,"v":400},{"t":226,"v":400},{"t":228,"v":400},{"t":230,"v":400},{"t":232,"v":400},{"t":234,"v":400},{"t":236,"v":400},{"t":238,"v":400},{"t":240,"v":400},{"t":242,"v":400},{"t":244,"v":400},{"t":246,"v":400},{"t":248,"v":400},{"t":250,"v":400},{"t":252,"v":400},{"t":254,"v":400},{"t":256,"v":400},{"t":258,"v":400},{"t":260,"v":400},{"t":262,"v":400},{"t":264,"v":400},{"t":266,"v":400},{"t":268,"v":400},{"t":270,"v":400},{"t":272,"v":400},{"t":274,"v":400},{"t":276,"v":400},{"t":278,"v":400},{"t":280,"v":400},{"t":282,"v":400},{"t":284,"v":400},{"t":286,"v":400},{"t":288,"v":400},{"t":290,"v":400},{"t":292,"v":400},{"t":294,"v":400},{"t":296,"v":400},{"t":298,"v":400},{"t":300,"v":400}],
"h_m1":[{"t":0,"v":0},{"t":2,"v":15},{"t":4,"v":23},{"t":6,"v":28},{"t":8,"v":31},{"t":10,"v":31},{"t":12,"v":31},{"t":14,"v":31},{"t":16,"v":33},{"t":18,"v":36},{"t":20,"v":40},{"t":22,"v":43},{"t":24,"v":51},{"t":25,"v":45},{"t":26,"v":31},{"t":27,"v":12}],
"i_x":[{"t":0,"v":14},{"t":1,"v":14},{"t":2,"v":14},{"t":3,"v":0},{"t":4,"v":14},{"t":5,"v":14},{"t":6,"v":5},{"t":7,"v":0},{"t":8,"v":13},{"t":9,"v":5},{"t":10,"v":6},{"t":11,"v":5},{"t":21,"v":1},{"t":24,"v":1},{"t":27,"v":1},{"t":29,"v":1}]
},
"columns":3,
"bounds":"flush",
"spacing":{"row":82,"column":67},
"resolve":{"scale":{"x":"independent","y":"independent","color":"independent"},"legend":{"color":"independent"}},
"concat":[
{"width":293,"height":130,"title":{"text":"(a)","offset":11},
 "encoding":{"x":{"field":"t","type":"quantitative","scale":{"domain":[-12,313],"nice":false,"zero":false},"axis":{"title":"Time","values":[0,50,100,150,200,250,300]}},
  "y":{"field":"v","type":"quantitative","scale":{"domain":[-26000,658000],"nice":false,"zero":false},"axis":{"title":"Cells","values":[0,100000,200000,300000,400000,500000,600000],"labelExpr":"datum.value == 0 ? '0e+00' : datum.value == 300000 ? '3e+05' : datum.value == 600000 ? '6e+05' : ''"}}},
 "layer":[
  {"data":{"name":"a_it"},"mark":{"type":"point","clip":true},"encoding":{"color":{"datum":"iTreg","scale":{"domain":["Th","iTreg"],"range":["#ff0000","#0000ff"]},"legend":{"title":null,"encoding":{"symbols":{"fill":{"value":{"expr":"datum.value === 'Th' ? '#ff0000' : '#0000ff'"}},"stroke":{"value":"#000000"},"strokeWidth":{"value":0.6}}}}}}},
  {"data":{"name":"z312"},"mark":{"type":"point","clip":true},"encoding":{"color":{"datum":"Th"}}}
 ]},
{"width":290,"height":130,"title":{"text":"(b)","offset":11},
 "encoding":{"x":{"field":"t","type":"quantitative","scale":{"domain":[-11.5,312],"nice":false,"zero":false},"axis":{"title":"Time","values":[0,50,100,150,200,250,300]}},
  "y":{"field":"v","type":"quantitative","scale":{"domain":[-53,1443],"nice":false,"zero":false},"axis":{"title":"Cells","values":[0,200,400,600,800,1000,1200],"labelExpr":"datum.value % 400 == 0 ? '' + datum.value : ''"}}},
 "layer":[
  {"data":{"name":"z312"},"mark":{"type":"point","clip":true},"encoding":{"color":{"datum":"M2","scale":{"domain":["M1","M2","M0"],"range":["#ff0000","#0000ff","#000000"]},"legend":{"title":null,"encoding":{"symbols":{"fill":{"value":{"expr":"datum.value === 'M1' ? '#ff0000' : datum.value === 'M2' ? '#0000ff' : '#000000'"}},"stroke":{"value":"#000000"},"strokeWidth":{"value":0.6}}}}}}},
  {"data":{"name":"z312"},"mark":{"type":"point","clip":true},"encoding":{"color":{"datum":"M1"}}},
  {"data":{"name":"k1000"},"mark":{"type":"point","clip":true},"encoding":{"color":{"datum":"M0"}}}
 ]},
{"width":290,"height":130,"title":{"text":"(c)","offset":11},
 "data":{"name":"z312"},
 "mark":{"type":"point","clip":true,"color":"#ff0000"},
 "encoding":{"x":{"field":"t","type":"quantitative","scale":{"domain":[-12.5,312],"nice":false,"zero":false},"axis":{"title":"Time","values":[0,50,100,150,200,250,300]}},
  "y":{"field":"v","type":"quantitative","scale":{"domain":[-0.7,17.6],"nice":false,"zero":false},"axis":{"title":"Cells","values":[0,5,10,15],"format":"d"}}}},
{"width":293,"height":134,"title":{"text":"(d)","offset":11},
 "encoding":{"x":{"field":"t","type":"quantitative","scale":{"domain":[-12,313.5],"nice":false,"zero":false},"axis":{"title":"Time","values":[0,50,100,150,200,250,300]}},
  "y":{"field":"v","type":"quantitative","scale":{"domain":[-34000,953000],"nice":false,"zero":false},"axis":{"title":"Cells","values":[0,200000,400000,600000,800000],"labelExpr":"datum.value == 0 ? '0e+00' : datum.value == 400000 ? '4e+05' : datum.value == 800000 ? '8e+05' : ''"}}},
 "layer":[
  {"data":{"name":"d_it"},"mark":{"type":"point","clip":true},"encoding":{"color":{"datum":"iTreg","scale":{"domain":["Th","iTreg"],"range":["#ff0000","#0000ff"]},"legend":{"title":null,"encoding":{"symbols":{"fill":{"value":{"expr":"datum.value === 'Th' ? '#ff0000' : '#0000ff'"}},"stroke":{"value":"#000000"},"strokeWidth":{"value":0.6}}}}}}},
  {"data":{"name":"d_th"},"mark":{"type":"point","clip":true},"encoding":{"color":{"datum":"Th"}}}
 ]},
{"width":290,"height":134,"title":{"text":"(e)","offset":11},
 "encoding":{"x":{"field":"t","type":"quantitative","scale":{"domain":[-11.5,312],"nice":false,"zero":false},"axis":{"title":"Time","values":[0,50,100,150,200,250,300]}},
  "y":{"field":"v","type":"quantitative","scale":{"domain":[-86,1735],"nice":false,"zero":false},"axis":{"title":"Cells","values":[0,500,1000,1500],"format":"d"}}},
 "layer":[
  {"data":{"name":"e_m2"},"mark":{"type":"point","clip":true},"encoding":{"color":{"datum":"M2","scale":{"domain":["M1","M2","M0"],"range":["#ff0000","#0000ff","#000000"]},"legend":{"title":null,"encoding":{"symbols":{"fill":{"value":{"expr":"datum.value === 'M1' ? '#ff0000' : datum.value === 'M2' ? '#0000ff' : '#000000'"}},"stroke":{"value":"#000000"},"strokeWidth":{"value":0.6}}}}}}},
  {"data":{"name":"e_m1"},"mark":{"type":"point","clip":true},"encoding":{"color":{"datum":"M1"}}},
  {"data":{"name":"e_m0"},"mark":{"type":"point","clip":true},"encoding":{"color":{"datum":"M0"}}}
 ]},
{"width":290,"height":134,"title":{"text":"(f)","offset":11},
 "encoding":{"x":{"field":"t","type":"quantitative","scale":{"domain":[-12,312],"nice":false,"zero":false},"axis":{"title":"Time","values":[0,50,100,150,200,250,300]}},
  "y":{"field":"v","type":"quantitative","scale":{"domain":[-1,20.1],"nice":false,"zero":false},"axis":{"title":"Cells","values":[0,5,10,15],"format":"d"}}},
 "layer":[
  {"data":{"name":"z312"},"transform":[{"filter":"datum.t >= 12"}],"mark":{"type":"point","clip":true,"color":"#ff0000"}},
  {"data":{"name":"f_x"},"mark":{"type":"point","clip":true,"color":"#ff0000"}}
 ]},
{"width":289,"height":129,"title":{"text":"(g)","offset":7},
 "encoding":{"x":{"field":"t","type":"quantitative","scale":{"domain":[-12,312],"nice":false,"zero":false},"axis":{"title":"Time","values":[0,50,100,150,200,250,300]}},
  "y":{"field":"v","type":"quantitative","scale":{"domain":[-31000,673000],"nice":false,"zero":false},"axis":{"title":"Cells","values":[0,100000,200000,300000,400000,500000,600000],"labelExpr":"datum.value == 0 ? '0e+00' : datum.value == 300000 ? '3e+05' : datum.value == 600000 ? '6e+05' : ''"}}},
 "layer":[
  {"data":{"name":"g_it"},"mark":{"type":"point","clip":true},"encoding":{"color":{"datum":"iTreg","scale":{"domain":["Th","iTreg"],"range":["#ff0000","#0000ff"]},"legend":{"title":null,"encoding":{"symbols":{"fill":{"value":{"expr":"datum.value === 'Th' ? '#ff0000' : '#0000ff'"}},"stroke":{"value":"#000000"},"strokeWidth":{"value":0.6}}}}}}},
  {"data":{"name":"g_th"},"mark":{"type":"point","clip":true},"encoding":{"color":{"datum":"Th"}}},
  {"data":{"name":"z312"},"transform":[{"filter":"datum.t >= 34 && datum.t <= 300"}],"mark":{"type":"point","clip":true},"encoding":{"color":{"datum":"Th"}}}
 ]},
{"width":290,"height":129,"title":{"text":"(h)","offset":7},
 "encoding":{"x":{"field":"t","type":"quantitative","scale":{"domain":[-11.5,312],"nice":false,"zero":false},"axis":{"title":"Time","values":[0,50,100,150,200,250,300]}},
  "y":{"field":"v","type":"quantitative","scale":{"domain":[-67,1442],"nice":false,"zero":false},"axis":{"title":"Cells","values":[0,200,400,600,800,1000,1200],"labelExpr":"datum.value % 400 == 0 ? '' + datum.value : ''"}}},
 "layer":[
  {"data":{"name":"h_m2"},"mark":{"type":"point","clip":true},"encoding":{"color":{"datum":"M2","scale":{"domain":["M1","M2","M0"],"range":["#ff0000","#0000ff","#000000"]},"legend":{"title":null,"encoding":{"symbols":{"fill":{"value":{"expr":"datum.value === 'M1' ? '#ff0000' : datum.value === 'M2' ? '#0000ff' : '#000000'"}},"stroke":{"value":"#000000"},"strokeWidth":{"value":0.6}}}}}}},
  {"data":{"name":"h_m1"},"mark":{"type":"point","clip":true},"encoding":{"color":{"datum":"M1"}}},
  {"data":{"name":"z312"},"transform":[{"filter":"datum.t >= 28 && datum.t <= 300"}],"mark":{"type":"point","clip":true},"encoding":{"color":{"datum":"M1"}}},
  {"data":{"name":"h_m0"},"mark":{"type":"point","clip":true},"encoding":{"color":{"datum":"M0"}}}
 ]},
{"width":288,"height":129,"title":{"text":"(i)","offset":7},
 "encoding":{"x":{"field":"t","type":"quantitative","scale":{"domain":[-12,313],"nice":false,"zero":false},"axis":{"title":"Time","values":[0,50,100,150,200,250,300]}},
  "y":{"field":"v","type":"quantitative","scale":{"domain":[-0.67,14.42],"nice":false,"zero":false},"axis":{"title":"Cells","values":[0,2,4,6,8,10,12],"labelExpr":"datum.value == 10 ? '' : '' + datum.value"}}},
 "layer":[
  {"data":{"name":"z312"},"transform":[{"filter":"datum.t >= 12 && datum.t <= 300"}],"mark":{"type":"point","clip":true,"color":"#ff0000"}},
  {"data":{"name":"i_x"},"mark":{"type":"point","clip":true,"color":"#ff0000"}}
 ]}
]
}
